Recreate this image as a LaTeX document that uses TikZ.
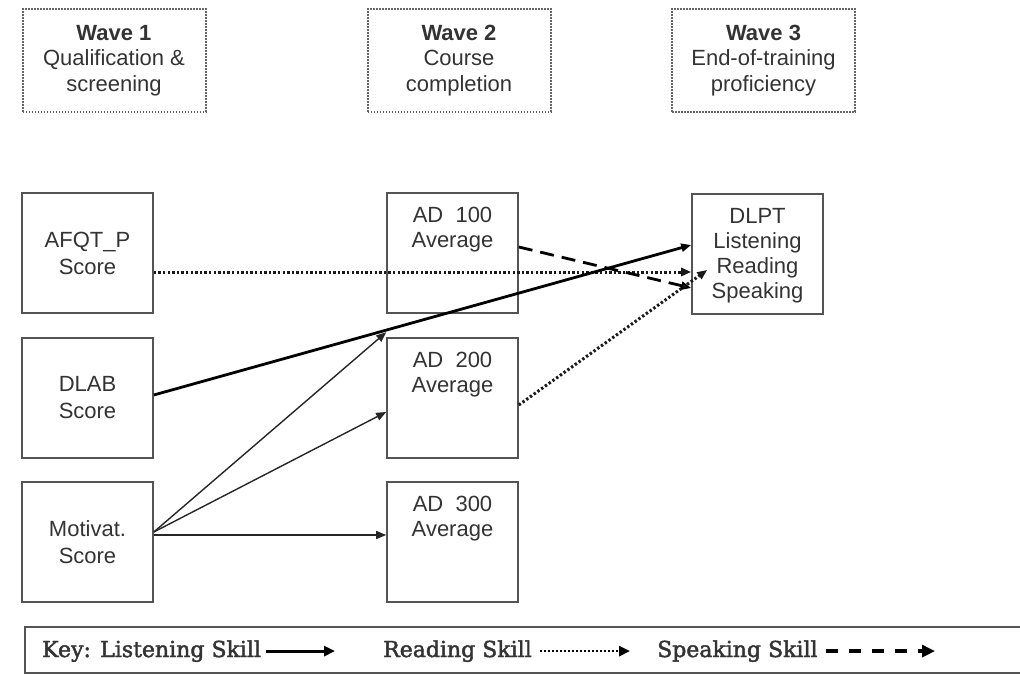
\documentclass[tikz,border=0pt]{standalone}
\usepackage{fontspec}
\setmainfont{Liberation Sans}
\newfontfamily\keyfont[FakeBold=2]{DejaVu Serif}
\usetikzlibrary{arrows.meta}

\definecolor{ink}{rgb}{0.20,0.20,0.20}
\definecolor{edge}{rgb}{0.33,0.33,0.33}
\definecolor{dotedge}{rgb}{0.40,0.40,0.40}

% fixed-size box whose lines start near its top edge
\newcommand\topaligned[1]{\parbox[c][120pt][t]{131pt}{\centering\vspace*{14pt}#1}}

\begin{document}
\begin{tikzpicture}[x=1pt,y=-1pt,
  wavebox/.style={draw=dotedge, line width=2pt, dash pattern=on 1.8pt off 1.2pt,
    minimum width=183pt, minimum height=103pt, inner sep=0pt, align=center,
    text=ink, font=\fontsize{22}{25.5}\selectfont},
  varbox/.style={draw=edge, line width=1.6pt, minimum width=131pt, minimum height=120pt,
    inner sep=0pt, align=center, text=ink, font=\fontsize{22}{27}\selectfont},
  topbox/.style={draw=edge, line width=1.6pt, inner sep=0pt, text=ink,
    font=\fontsize{22}{25}\selectfont},
  tip/.style={-{Triangle[length=10pt,width=8pt]}},
  listening/.style={tip, line width=2.8pt, draw=black},
  reading/.style={tip, line width=3pt, draw=black!90, dash pattern=on 2.4pt off 2.2pt},
  speaking/.style={tip, line width=2.8pt, draw=black, dash pattern=on 14pt off 8pt},
  thinpath/.style={tip, line width=1.4pt, draw=black!85},
  keytext/.style={anchor=base west, inner sep=0pt, text=ink, font=\keyfont\fontsize{22}{26}\selectfont},
]
\useasboundingbox (0,0) rectangle (1020,674);

% wave headers
\node[wavebox] (w1) at (114,60.5) {\textbf{Wave 1}\\Qualification \&\\screening};
\node[wavebox] (w2) at (459,60.5) {\textbf{Wave 2}\\Course\\completion};
\node[wavebox] (w3) at (763.5,60.5) {\textbf{Wave 3}\\End-of-training\\proficiency};

% wave 1 measures
\node[varbox] (afqt) at (87.5,253) {AFQT\_P\\Score};
\node[varbox] (dlab) at (87.5,398) {DLAB\\Score};
\node[varbox] (mot)  at (87.5,542) {Motivat.\\Score};

% wave 2 course averages
\node[topbox] (ad1) at (452.5,253) {\topaligned{AD~~100\\Average}};
\node[topbox] (ad2) at (452.5,398) {\topaligned{AD~~200\\Average}};
\node[topbox] (ad3) at (452.5,542) {\topaligned{AD~~300\\Average}};

% wave 3 outcome
\node[topbox] (dlpt) at (757.5,254) {\topaligned{DLPT\\Listening\\Reading\\Speaking}};

% paths
\draw[reading] ([yshift=-19pt]afqt.east) -- ([yshift=-18pt]dlpt.west);
\draw[listening] ([yshift=3pt]dlab.east) -- ([yshift=9pt]dlpt.west);
\draw[speaking] ([yshift=6pt]ad1.east) -- ([yshift=-34pt]dlpt.west);
\draw[reading] ([yshift=-7pt]ad2.east) -- ([xshift=16pt,yshift=-16pt]dlpt.west);
\draw[thinpath] ([yshift=10pt]mot.east) -- ([yshift=5pt]ad2.north west);
\draw[thinpath] ([yshift=10pt]mot.east) -- ([yshift=-14pt]ad2.west);
\draw[thinpath] ([yshift=7pt]mot.east) -- ([yshift=7pt]ad3.west);

% key
\node[draw=edge, line width=1.5pt, minimum width=1005pt, minimum height=46pt, inner sep=0pt]
  (key) at (527.5,650) {};
\node[keytext] (kl) at (42,657) {Key: Listening Skill};
\node[keytext] (kr) at (383,657) {Reading Skill};
\node[keytext] (ks) at (657,657) {Speaking Skill};
\coordinate (kle) at (335,650);
\coordinate (kre) at (630,650);
\coordinate (kse) at (935,650);
\draw[line width=3pt, -{Triangle[length=11pt,width=10pt]}] ([xshift=5pt]kl.east) -- (kle |- kl.east);
\draw[line width=2.8pt, dash pattern=on 2pt off 2pt, -{Triangle[length=11pt,width=10pt]}] ([xshift=8pt]kr.east) -- (kre |- kr.east);
\draw[line width=3.2pt, dash pattern=on 12pt off 11pt, -{Triangle[length=13pt,width=12pt]}] ([xshift=8pt]ks.east) -- (kse |- ks.east);
\end{tikzpicture}
\end{document}
